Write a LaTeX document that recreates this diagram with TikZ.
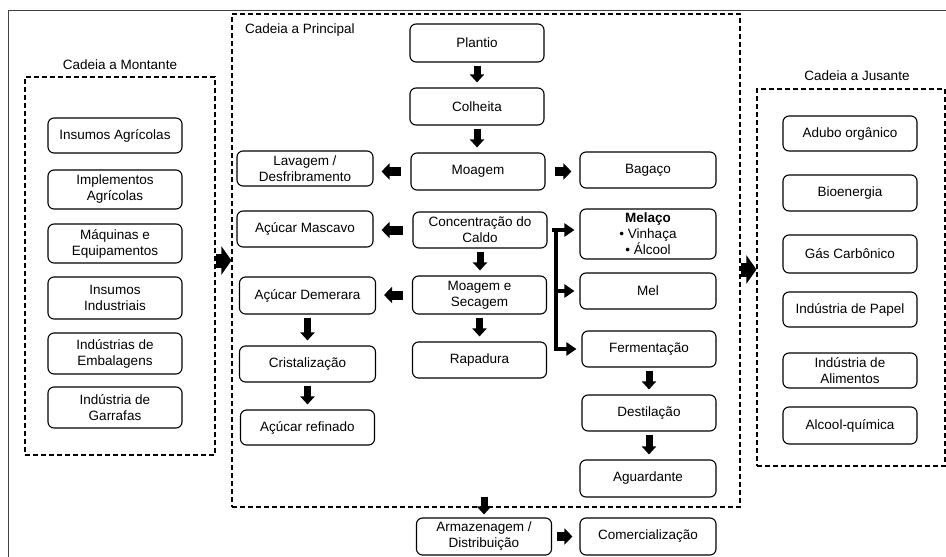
\documentclass[tikz,border=0pt]{standalone}
\usepackage{fontspec}
\setmainfont{Liberation Sans}
\usetikzlibrary{arrows.meta}

\tikzset{
	caixa/.style={draw, rounded corners=6pt, line width=1.1pt, minimum width=134pt, minimum height=36pt, inner sep=1pt, align=center, font=\fontsize{13.5}{16}\selectfont},
	cadeia/.style={draw, line width=1.1pt, dash pattern=on 5pt off 3pt, inner sep=0pt},
	titulo/.style={font=\fontsize{13.5}{16}\selectfont, inner sep=0pt},
	setav/.style={line width=7pt, -{Triangle[length=8pt,width=14pt]}, shorten <=3pt, shorten >=5pt},
	setah/.style={line width=9pt, -{Triangle[length=8pt,width=16pt]}, shorten <=9pt, shorten >=8pt},
	setag/.style={line width=14pt, -{Triangle[length=10pt,width=28pt]}},
	barra/.style={line width=4pt, -{Triangle[length=10pt,width=13pt]}, shorten >=5pt},
}

\begin{document}
\begin{tikzpicture}[x=1pt, y=-1pt]
				\useasboundingbox (0,0) rectangle (946,557);
				\draw[line width=0.8pt, black!75] (8,557) -- (8,10) -- (946,10);
				% cadeias
				\node[cadeia, minimum width=190pt, minimum height=378pt] (montante) at (120,266) {};
				\node[cadeia, minimum width=508pt, minimum height=493pt] (principal) at (486,260.5) {};
				\node[cadeia, minimum width=188pt, minimum height=377pt] (jusante) at (851,277.5) {};
				\node[titulo] (tmont) at (120,65) {Cadeia a Montante};
				\node[titulo, anchor=west] (tprinc) at (245,30) {Cadeia a Principal};
				\node[titulo] (tjus) at (857,76) {Cadeia a Jusante};
				% cadeia a montante
				\node[caixa, minimum height=35pt] (insagr) at (115,135.5) {Insumos Agrícolas};
				\node[caixa, minimum height=39pt] (implagr) at (115,189.5) {Implementos\\Agrícolas};
				\node[caixa, minimum height=39pt] (maqeq) at (115,243.5) {Máquinas e\\Equipamentos};
				\node[caixa, minimum height=42pt] (insind) at (115,298) {Insumos\\Industriais};
				\node[caixa, minimum height=41pt] (indemb) at (115,353.5) {Indústrias de\\Embalagens};
				\node[caixa, minimum height=41pt] (indgarr) at (115,407.5) {Indústria de\\Garrafas};
				% coluna central
				\node[caixa, minimum height=38pt] (plantio) at (477,43) {Plantio};
				\node[caixa, minimum height=37pt] (colheita) at (477,106.5) {Colheita};
				\node[caixa, minimum height=37pt] (moagem) at (478,171.5) {Moagem};
				\node[caixa] (conc) at (480,230) {Concentração do\\Caldo};
				\node[caixa, minimum height=38pt] (moagsec) at (479.5,295) {Moagem e\\Secagem};
				\node[caixa] (rapadura) at (479.5,360) {Rapadura};
				% coluna esquerda
				\node[caixa, minimum width=136pt, minimum height=35pt] (lavagem) at (305,168.5) {Lavagem /\\Desfribramento};
				\node[caixa, minimum width=136pt] (mascavo) at (305,229) {Açúcar Mascavo};
				\node[caixa, minimum width=136pt, minimum height=37pt] (demerara) at (307.5,295.5) {Açúcar Demerara};
				\node[caixa, minimum width=136pt] (cristal) at (307.5,364) {Cristalização};
				\node[caixa, minimum width=134pt, minimum height=35pt] (refinado) at (307.5,427.5) {Açúcar refinado};
				% coluna direita
				\node[caixa, minimum width=136pt] (bagaco) at (648,170) {Bagaço};
				\node[caixa, minimum width=136pt, minimum height=50pt, inner sep=0pt] (melaco) at (648,234) {\textbf{Melaço}\\\textbullet\ Vinhaça\\\textbullet\ Álcool};
				\node[caixa, minimum width=136pt] (mel) at (648,291) {Mel};
				\node[caixa, minimum width=134pt] (ferm) at (649,349) {Fermentação};
				\node[caixa, minimum width=134pt] (destil) at (649,413) {Destilação};
				\node[caixa, minimum width=136pt, minimum height=37pt] (aguard) at (648,478.5) {Aguardante};
				% cadeia a jusante
				\node[caixa, minimum height=35pt] (adubo) at (850,133.5) {Adubo orgânico};
				\node[caixa] (bioen) at (850,193) {Bioenergia};
				\node[caixa, minimum height=38pt] (gascarb) at (850,254) {Gás Carbônico};
				\node[caixa, minimum height=35pt] (papel) at (850,309.5) {Indústria de Papel};
				\node[caixa, minimum height=35pt] (alim) at (850,370.5) {Indústria de\\Alimentos};
				\node[caixa, minimum height=37pt] (alcoolq) at (850,425.5) {Alcool-química};
				% fora das cadeias
				\node[caixa, minimum width=135pt, minimum height=37pt] (armaz) at (484,536.5) {Armazenagem /\\Distribuição};
				\node[caixa, minimum width=136pt, minimum height=37pt] (comerc) at (648,536.5) {Comercialização};
				% setas
				\draw[setav] (plantio.south) -- (plantio.south |- colheita.north);
				\draw[setav] (colheita.south) -- (colheita.south |- moagem.north);
				\draw[setav] (conc.south) -- (conc.south |- moagsec.north);
				\draw[setav] (moagsec.south) -- (moagsec.south |- rapadura.north);
				\draw[setav] (demerara.south) -- (demerara.south |- cristal.north);
				\draw[setav] (cristal.south) -- (cristal.south |- refinado.north);
				\draw[setav] (ferm.south) -- (ferm.south |- destil.north);
				\draw[setav] (destil.south) -- (destil.south |- aguard.north);
				\draw[setah] (moagem.west) -- (moagem.west -| lavagem.east);
				\draw[setah] (conc.west) -- (conc.west -| mascavo.east);
				\draw[setah] (moagsec.west) -- (moagsec.west -| demerara.east);
				\draw[setah] (moagem.east) -- (moagem.east -| bagaco.west);
				\draw[setah, shorten <=5pt, shorten >=7pt] (armaz.east) -- (armaz.east -| comerc.west);
				\draw[setav, shorten <=0pt, shorten >=3pt] ([yshift=11pt]armaz.north |- principal.south) -- (armaz.north);
				\draw[setag] (principal.west -| montante.east) -- (principal.west);
				\draw[setag] ([yshift=-9pt]principal.east) -- ([yshift=-9pt]principal.east -| jusante.west);
				% barra do melaço
				\coordinate (bus) at (556,0);
				\draw[barra, shorten <=4pt] (conc.east) -- (conc.east -| melaco.west);
				\draw[barra] (bus |- conc.east) |- (mel.west);
				\draw[barra] (bus |- conc.east) |- (ferm.west);
\end{tikzpicture}
\end{document}
